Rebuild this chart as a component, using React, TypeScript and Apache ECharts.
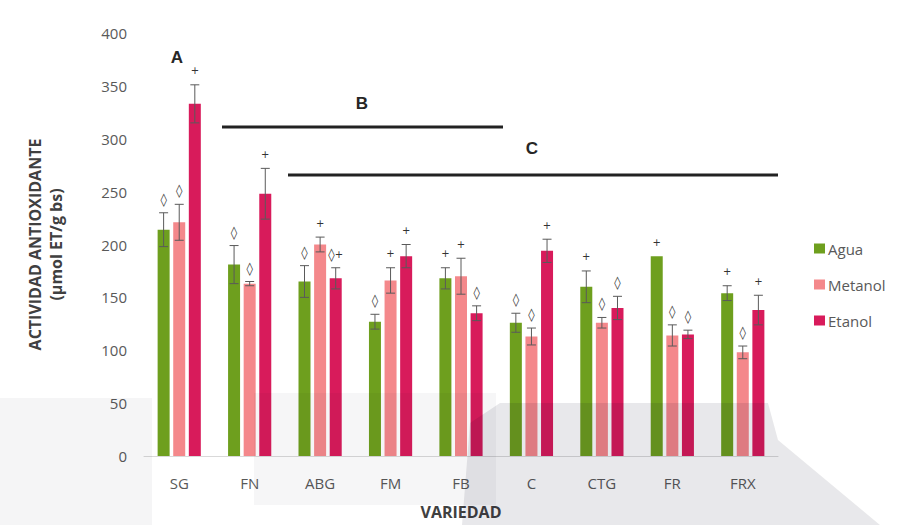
import { useEffect, useRef } from 'react';
import * as echarts from 'echarts';

const categories = ['SG', 'FN', 'ABG', 'FM', 'FB', 'C', 'CTG', 'FR', 'FRX'];
const seriesNames = ['Agua', 'Metanol', 'Etanol'];
const aguaValues = [214, 181, 165, 127, 168, 126, 160, 189, 154];
const aguaErrors = [16, 18, 15, 7, 10, 9, 15, 0, 7];
const metanolValues = [221, 163, 200, 166, 170, 113, 126, 114, 98];
const metanolErrors = [17, 2, 7, 12, 17, 8, 5, 10, 6];
const etanolValues = [333, 248, 168, 189, 135, 194, 140, 115, 138];
const etanolErrors = [18, 24, 10, 11, 7, 11, 11, 4, 14];
const aguaMarks = ['◊', '◊', '◊', '◊', '+', '◊', '+', '+', '+'];
const metanolMarks = ['◊', '◊', '+', '+', '+', '◊', '◊', '◊', '◊'];
const etanolMarks = ['+', '+', '◊+', '+', '◊', '+', '◊', '◊', '+'];
const yTicks = [0, 400, 50];
const groupLabels = ['A', 'B', 'C'];

const COLORS = ['#6E9F1E', '#F4888B', '#D81B5B'];
const BAR_W = 12;
const BAR_GAP = 3.6;
const FONT = '"Open Sans", "Noto Sans", sans-serif';

function markText(m: string) {
  return m
    .split('')
    .map((ch) => (ch === '+' ? '{p|+}' : '{d|' + ch + '}'))
    .join('');
}

function errorSeries(idx: number, values: number[], errors: number[], marks: string[]) {
  return {
    type: 'custom',
    name: seriesNames[idx] + ' error',
    silent: true,
    z: 5,
    data: values.map((v, i) => [i, v, errors[i]]),
    encode: { x: 0, y: 1 },
    renderItem: (params: any, api: any) => {
      const i = api.value(0);
      const v = api.value(1);
      const e = api.value(2);
      const off = (idx - 1) * (BAR_W + BAR_GAP);
      const top = api.coord([i, v + e]);
      const bot = api.coord([i, v - e]);
      const cx = top[0] + off;
      const children: any[] = [];
      const ls = { stroke: '#5a5a5a', lineWidth: 1 };
      if (e > 0) {
        children.push({ type: 'line', shape: { x1: cx, y1: top[1], x2: cx, y2: bot[1] }, style: ls });
        children.push({ type: 'line', shape: { x1: cx - 4.5, y1: top[1], x2: cx + 4.5, y2: top[1] }, style: ls });
        children.push({ type: 'line', shape: { x1: cx - 4.5, y1: bot[1], x2: cx + 4.5, y2: bot[1] }, style: ls });
      }
      const m = marks[params.dataIndex];
      const onlyPlus = m === '+';
      children.push({
        type: 'text',
        x: cx,
        y: top[1] - (onlyPlus ? 9 : 7),
        style: {
          text: markText(m),
          fill: '#404040',
          fontFamily: '"DejaVu Sans", sans-serif',
          align: 'center',
          verticalAlign: 'bottom',
          rich: {
            d: { fontSize: 13, fill: '#404040', fontFamily: '"DejaVu Sans", sans-serif' },
            p: { fontSize: 10, fill: '#333333', fontFamily: '"DejaVu Sans", sans-serif' },
          },
        },
      });
      return { type: 'group', children };
    },
  };
}

export default function App() {
  const ref = useRef<HTMLDivElement>(null);
  useEffect(() => {
    if (!ref.current) return;
    const chart = echarts.init(ref.current, null, { renderer: 'svg' });
    const barValues = [aguaValues, metanolValues, etanolValues];
    const option: any = {
      animation: false,
      backgroundColor: '#ffffff',
      grid: { left: 144, right: 126, top: 33, bottom: 67 },
      legend: {
        orient: 'vertical',
        left: 809,
        top: 236,
        data: seriesNames,
        icon: 'rect',
        itemWidth: 11,
        itemHeight: 10,
        itemGap: 21,
        textStyle: { color: '#595959', fontSize: 15, fontFamily: FONT, padding: [0, 0, 0, -2] },
      },
      xAxis: {
        type: 'category',
        data: categories,
        name: 'VARIEDAD',
        nameLocation: 'middle',
        nameGap: 48,
        nameTextStyle: { color: '#404040', fontSize: 16, fontWeight: 'bold', fontFamily: FONT },
        axisLine: { lineStyle: { color: '#d9d9d9', width: 1 } },
        axisTick: { show: false },
        axisLabel: { color: '#595959', fontSize: 15, fontFamily: FONT, margin: 19 },
      },
      yAxis: {
        type: 'value',
        min: yTicks[0],
        max: yTicks[1],
        interval: yTicks[2],
        name: 'ACTIVIDAD ANTIOXIDANTE\n(µmol ET/g bs)',
        nameLocation: 'middle',
        nameRotate: 90,
        nameGap: 78,
        nameTextStyle: { color: '#404040', fontSize: 16, fontWeight: 'bold', fontFamily: FONT, lineHeight: 21 },
        axisLine: { show: false },
        axisTick: { show: false },
        splitLine: { show: false },
        axisLabel: { color: '#595959', fontSize: 15, fontFamily: FONT, margin: 17 },
      },
      series: [
        ...seriesNames.map((n, k) => ({
          type: 'bar',
          name: n,
          data: barValues[k],
          barWidth: BAR_W,
          barGap: '30%',
          itemStyle: { color: COLORS[k] },
        })),
        errorSeries(0, aguaValues, aguaErrors, aguaMarks),
        errorSeries(1, metanolValues, metanolErrors, metanolMarks),
        errorSeries(2, etanolValues, etanolErrors, etanolMarks),
      ],
      graphic: [
        { type: 'line', shape: { x1: 222, y1: 127, x2: 503, y2: 127 }, style: { stroke: '#222', lineWidth: 3 } },
        { type: 'line', shape: { x1: 288, y1: 175, x2: 778, y2: 175 }, style: { stroke: '#222', lineWidth: 3 } },
        ...groupLabels.map((t, k) => ({
          type: 'text',
          x: [177, 362, 532][k],
          y: [57, 103, 148][k],
          style: {
            text: t,
            fill: '#262626',
            fontSize: 17,
            fontWeight: 'bold',
            fontFamily: '"Liberation Sans", Arial, sans-serif',
            align: 'center',
            verticalAlign: 'middle',
          },
        })),
        // faint watermark shapes
        {
          type: 'polygon',
          silent: true,
          z: 100,
          shape: { points: [[0, 398], [152, 398], [152, 525], [0, 525]] },
          style: { fill: 'rgba(0,0,30,0.04)' },
        },
        {
          type: 'polygon',
          silent: true,
          z: 100,
          shape: { points: [[254, 393], [496, 393], [496, 505], [254, 505]] },
          style: { fill: 'rgba(0,0,30,0.035)' },
        },
        {
          type: 'polygon',
          silent: true,
          z: 100,
          shape: { points: [[470, 423], [500, 403], [768, 403], [778, 440], [880, 525], [462, 525]] },
          style: { fill: 'rgba(0,0,30,0.09)' },
        },
      ],
    };
    chart.setOption(option);
    return () => chart.dispose();
  }, []);
  return <div ref={ref} style={{ position: 'absolute', left: 0, top: 0, width: 904, height: 525 }} />;
}
